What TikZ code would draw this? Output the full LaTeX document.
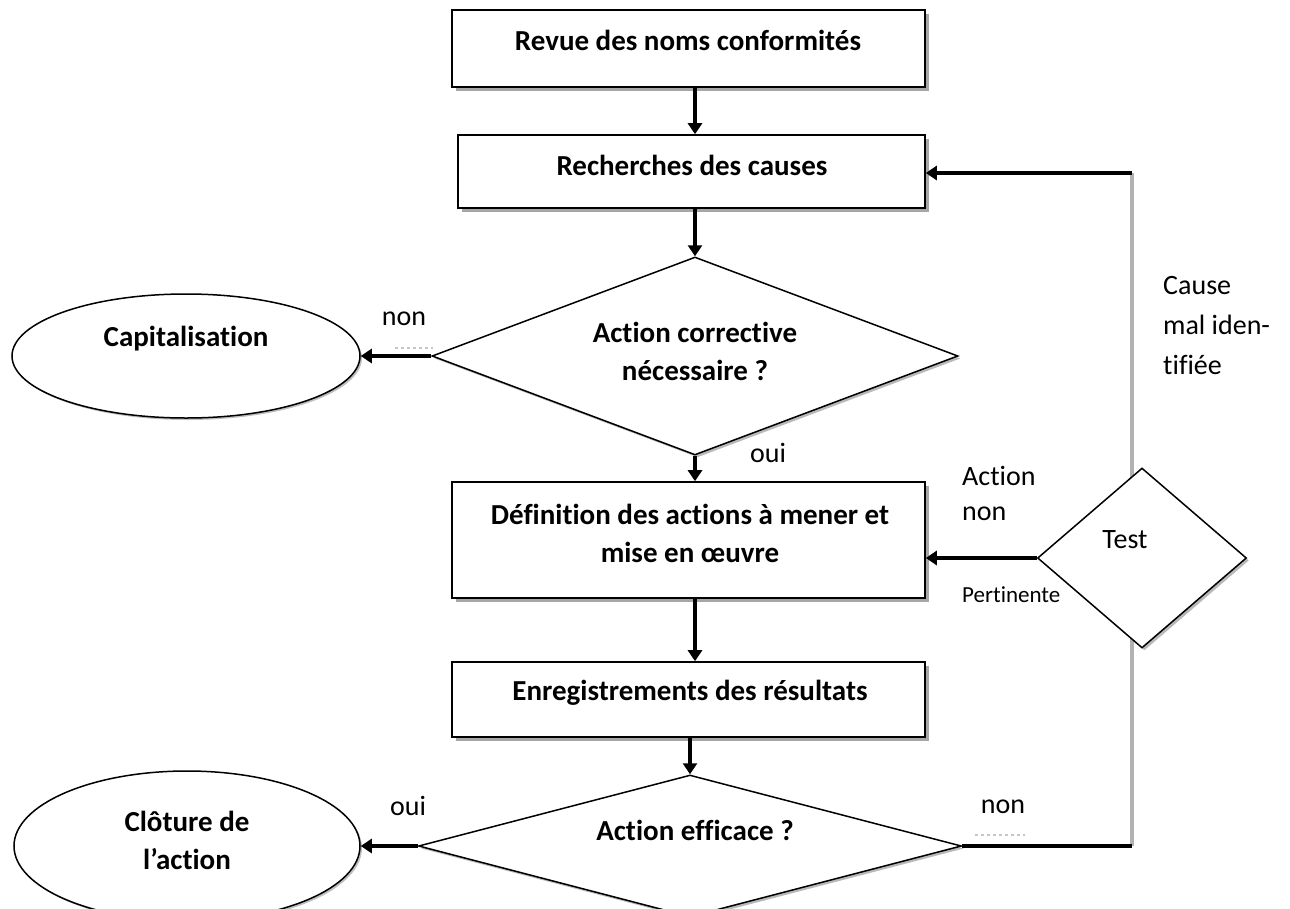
\documentclass[tikz,border=0pt]{standalone}
\usepackage{fontspec}
\setmainfont{Carlito}[Ligatures=NoCommon]
\usetikzlibrary{shapes.geometric,arrows.meta,shadows}

\tikzset{
  boxshape/.style={rectangle,draw=black,line width=1.6pt,fill=white,inner sep=0pt,
    drop shadow={shadow xshift=4pt,shadow yshift=-4pt,fill=gray!70,opacity=1}},
  decision/.style={diamond,draw=black,line width=1.5pt,fill=white,inner sep=0pt,
    drop shadow={shadow xshift=2.5pt,shadow yshift=-2.5pt,fill=gray!55,opacity=1}},
  terminal/.style={ellipse,draw=black,line width=1.5pt,fill=white,inner sep=0pt,
    drop shadow={shadow xshift=2pt,shadow yshift=-2pt,fill=gray!50,opacity=1}},
  boldtext/.style={inner sep=0pt,align=center,font=\fontsize{29}{38}\selectfont\bfseries},
  plaintext/.style={inner sep=0pt,align=left,font=\fontsize{28}{40}\selectfont},
  smalltext/.style={inner sep=0pt,font=\fontsize{23}{28}\selectfont},
  conn/.style={line width=3.2pt,draw=black,-{Triangle[width=14pt,length=11pt]}},
  connline/.style={line width=3.2pt,draw=black},
  loopline/.style={line width=4pt,draw=gray!60},
  underdots/.style={line width=2pt,draw=gray!45,dash pattern=on 3pt off 3pt}
}

\begin{document}
\begin{tikzpicture}[x=1pt,y=-1pt]
  \useasboundingbox (0,0) rectangle (1290,908);

  % process boxes
  \node[boxshape,minimum width=473pt,minimum height=77pt] (b1) at (688.5,48.5) {};
  \node[boxshape,minimum width=467pt,minimum height=73pt] (b2) at (691.5,171.5) {};
  \node[boxshape,minimum width=473pt,minimum height=116pt] (b3) at (688.5,540) {};
  \node[boxshape,minimum width=473pt,minimum height=75pt] (b4) at (688.5,699.5) {};

  % decisions
  \node[decision,minimum width=526pt,minimum height=198pt,aspect=2.66] (d1) at (695,356) {};
  \node[decision,minimum width=543pt,minimum height=142pt,aspect=3.82] (d2) at (690,846) {};

  % loop back to the cause search
  \coordinate (lb) at (1132,846);
  \coordinate (lt) at (1132,173);
  \draw[loopline] (lb) -- (lt);
  \node[decision,minimum width=209pt,minimum height=180pt,aspect=1.16] (test) at (1142,558) {};

  % end points
  \node[terminal,minimum width=348pt,minimum height=124pt] (cap) at (186,356) {};
  \node[terminal,minimum width=346pt,minimum height=150pt] (clo) at (187,846) {};

  % texts
  \node[boldtext,anchor=base] (t1) at (688,50) {Revue des noms conformités};
  \node[boldtext,anchor=base] (t2) at (692,175) {Recherches des causes};
  \node[boldtext] (t3) at (695,351) {Action corrective\\nécessaire ?};
  \node[boldtext] (t4) at (690,533) {Définition des actions à mener et\\mise en œuvre};
  \node[boldtext,anchor=base] (t5) at (690,700) {Enregistrements des résultats};
  \node[boldtext,anchor=base] (t6) at (695,840) {Action efficace ?};
  \node[boldtext,anchor=base] (t7) at (186,346) {Capitalisation};
  \node[boldtext] (t8) at (187,840) {Clôture de\\l’action};
  \node[plaintext,anchor=base] (t9) at (1125,548) {Test};

  % branch labels
  \node[plaintext,anchor=base] (l1) at (404,325) {non};
  \node[plaintext,anchor=base] (l2) at (768,462) {oui};
  \node[plaintext,anchor=base] (l3) at (408,815) {oui};
  \node[plaintext,anchor=base] (l4) at (1003,813) {non};
  \node[plaintext,anchor=base west] (l5) at (962,485) {Action};
  \node[plaintext,anchor=base west] (l6) at (962,520) {non};
  \node[smalltext,anchor=base west] (l7) at (962,602) {Pertinente};
  \node[plaintext,anchor=west] (l8) at (1163,326) {Cause\\mal iden-\\tifiée};

  % faint marks under two of the labels
  \draw[underdots] (395,348) -- (433,348);
  \draw[underdots] (975,835) -- (1025,835);

  % main flow
  \draw[conn] (b1.south -| d1.north) -- (b2.north -| d1.north);
  \draw[conn] (b2.south -| d1.north) -- (d1.north);
  \draw[conn] (d1.south) -- (b3.north -| d1.south);
  \draw[conn] (b3.south -| d1.south) -- (b4.north -| d1.south);
  \draw[conn] (b4.south -| d2.north) -- (d2.north);

  % side branches
  \draw[conn] (d1.west) -- (cap.east);
  \draw[conn] (d2.west) -- (clo.east);
  \draw[connline] (d2.east) -- (lb);
  \draw[conn] (lt) -- (lt -| b2.east);
  \draw[conn] (test.west) -- (test.west -| b3.east);
\end{tikzpicture}
\end{document}
